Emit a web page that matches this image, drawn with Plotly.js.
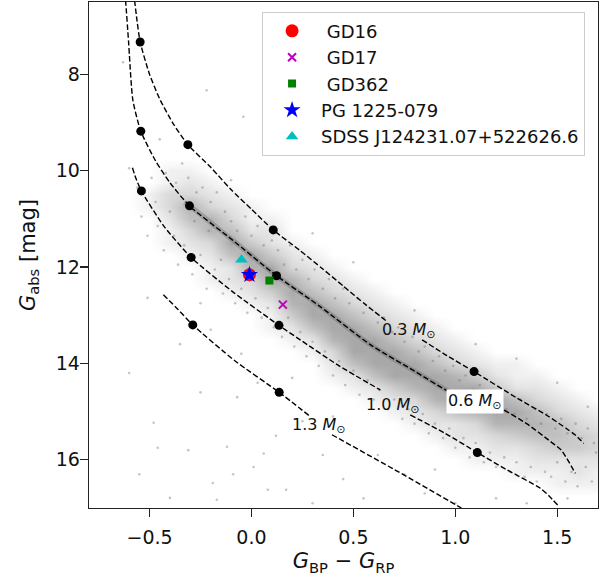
<!DOCTYPE html>
<html>
<head>
<meta charset="utf-8">
<script src="https://cdn.plot.ly/plotly-3.0.1.min.js"></script>
<style>html,body{margin:0;padding:0;background:#fff;}#chart{width:604px;height:581px;}</style>
</head>
<body>
<div id="chart"></div>
<script>
// ---- Gaia WD cloud: density (0 = empty ... 7 = densest) ----
const gridX = [-0.6,-0.5,-0.4,-0.3,-0.2,-0.1,0.0,0.1,0.2,0.3,0.4,0.5,0.6,0.7,0.8,0.9,1.0,1.1,1.2,1.3,1.4,1.5,1.6,1.7];
const gridY = [9.5,9.75,10.0,10.25,10.5,10.75,11.0,11.25,11.5,11.75,12.0,12.25,12.5,12.75,13.0,13.25,13.5,13.75,
               14.0,14.25,14.5,14.75,15.0,15.25,15.5,15.75,16.0,16.25,16.5,16.75,17.0];
const densityRows = [
  "000000000000000000000000",
  "000000000000000000000000",
  "001100000000000000000000",
  "001210000000000000000000",
  "013321000000000000000000",
  "013632100000000000000000",
  "002563110000000000000000",
  "001365220000000000000000",
  "001237421000000000000000",
  "000125742100000000000000",
  "000012673210000000000000",
  "000012376321000000000000",
  "000001247532100000000000",
  "000000126753210000000000",
  "000000014775321000000000",
  "000000012577532100000000",
  "000000001267753210000000",
  "000000000137775321000000",
  "000000000025777532110000",
  "000000000012577764211000",
  "000000000001246777422100",
  "000000000000123677753210",
  "000000000000012356775321",
  "000000000000001223666532",
  "000000000000000122345543",
  "000000000000000011223443",
  "000000000000000001112222",
  "000000000000000000011121",
  "000000000000000000000111",
  "000000000000000000000000",
  "000000000000000000000000"
];
// dark ridge along the sequence
const ridgeX = [-0.33,-0.304,-0.09,0.123,0.337,0.583,0.80,0.967];
const ridgeY = [10.66,10.73,11.45,12.18,12.82,13.61,14.16,14.58];
// individual scattered stars
const cloudX = [-0.63,-0.22,-0.04,-0.45,-0.60,-0.56,-0.54,-0.51,-0.49,-0.47,-0.46,-0.43,-0.42,-0.40,-0.38,-0.37,-0.36,-0.34,-0.33,-0.31,
  -0.29,-0.28,-0.27,-0.25,-0.24,-0.22,-0.21,-0.20,-0.18,-0.17,-0.15,-0.14,-0.13,-0.11,-0.10,-0.08,-0.07,-0.05,-0.03,-0.02,
  0.00,0.02,0.03,0.05,0.06,0.08,0.10,0.11,0.13,0.15,0.16,0.18,0.19,0.21,0.22,0.24,0.25,0.27,0.28,0.30,
  0.31,0.33,0.35,0.36,0.38,0.40,0.41,0.43,0.45,0.46,0.48,0.50,0.52,0.53,0.55,0.57,0.58,0.60,0.62,0.63,
  0.65,0.67,0.69,0.70,0.72,0.74,0.75,0.77,0.79,0.80,0.82,0.84,0.85,0.87,0.89,0.90,0.92,0.94,0.95,0.97,
  0.99,1.00,1.02,1.04,1.05,1.07,1.09,1.10,1.12,1.14,1.15,1.17,1.19,1.20,1.22,1.24,1.25,1.27,1.29,1.30,
  1.32,1.34,1.35,1.37,1.39,1.40,1.42,1.44,1.45,1.47,1.49,1.50,1.52,1.54,1.55,1.57,1.59,1.60,1.62,1.64,
  1.65,1.67,1.68,1.69,-0.51,-0.25,-0.48,-0.46,-0.40,-0.31,-0.19,-0.12,-0.07,0.01,0.08,0.06,0.17,-0.17,-0.35,-0.20,
  -0.05,0.03,0.20,0.25,0.35,0.45,0.55,0.30,0.62,0.75,0.85,1.00,1.20,1.35,-0.60,-0.55,-0.25,0.40,0.90,1.55,
  -0.09,0.12,0.50,0.80,1.10,1.30,1.50,1.65,0.30,-0.10];
const cloudY = [7.75,8.33,8.88,9.35,9.95,10.35,10.95,11.35,10.15,10.65,11.15,11.65,10.05,10.85,11.35,10.25,11.95,9.85,11.55,10.15,
  12.15,11.05,10.45,11.75,10.35,12.45,11.25,10.65,12.05,10.45,11.85,12.55,10.85,12.25,11.05,12.75,11.25,12.45,10.95,12.95,
  11.35,12.65,11.15,13.05,11.55,12.85,11.45,13.25,11.65,13.45,11.95,13.05,11.55,13.65,12.05,13.35,11.85,13.85,12.25,13.55,
  12.05,14.05,12.45,13.75,12.25,14.25,12.65,13.95,12.45,14.45,12.75,14.15,12.65,14.65,12.95,14.35,12.85,14.75,13.15,14.55,
  13.05,14.95,13.35,14.75,13.25,15.15,13.55,14.95,13.45,15.25,13.75,15.05,13.65,15.45,13.95,15.25,13.85,15.55,14.15,15.35,
  14.05,15.75,14.35,15.55,14.25,15.95,14.55,15.65,14.45,16.05,14.75,15.85,14.65,16.15,14.85,15.95,14.95,16.25,15.05,16.05,
  14.75,16.35,15.15,16.15,14.95,16.45,15.25,16.25,15.05,16.35,15.35,16.05,15.15,16.45,15.45,16.25,15.25,16.55,15.55,16.15,
  15.35,16.45,15.65,15.85,12.64,12.75,15.23,15.75,16.79,15.8,16.48,15.73,14.7,16.15,16.62,15.87,16.62,16.83,13.6,13.3,
  13.8,14.4,14.3,15.2,15.9,16.4,16.8,16.9,15.9,16.3,16.7,16.9,16.8,16.9,14.2,16.3,14.6,15.1,16.2,16.8,
  16.3,15.5,11.9,12.9,13.6,13.9,14.4,14.9,11.3,10.2];

// ---- cooling tracks ----
const x03 = [-0.578,-0.561,-0.546,-0.50,-0.448,-0.38,-0.312,-0.20,-0.103,0.0,0.107,0.239,0.35,0.452,0.56,0.665,null,0.837,0.96,1.092,1.303,1.45,1.548,1.59,1.63];
const y03 = [6.3,6.9,7.33,8.0,8.53,9.05,9.46,9.93,10.38,10.80,11.23,11.66,12.04,12.40,12.78,13.13,null,13.51,13.84,14.17,14.72,15.08,15.36,15.49,15.66];
const x06 = [-0.622,-0.617,-0.603,-0.582,-0.543,-0.47,-0.40,-0.304,-0.09,0.123,0.337,0.583,0.80,0.967,1.098,1.229,1.35,1.467,1.52,1.589];
const y06 = [6.3,6.5,7.32,8.53,9.18,9.8,10.25,10.73,11.45,12.18,12.82,13.61,14.16,14.58,14.79,14.95,15.25,15.62,15.80,16.28];
const x10 = [-0.584,-0.565,-0.540,-0.43,-0.296,-0.096,0.135,0.239,0.43,0.632,null,0.779,0.95,1.108,1.25,1.417,1.46,1.502];
const y10 = [9.94,10.18,10.42,11.15,11.80,12.50,13.21,13.51,14.05,14.55,null,15.07,15.45,15.85,16.2,16.59,16.75,16.94];
const x13 = [-0.432,-0.36,-0.288,-0.08,0.136,0.288,null,0.395,0.70,1.03];
const y13 = [12.575,12.88,13.2,13.95,14.6,15.10,null,15.48,16.2,17.0];
const dotsX = [-0.546,-0.312,0.107,1.092, -0.543,-0.304,0.123,1.098, -0.540,-0.296,0.135,1.108, -0.288,0.136];
const dotsY = [7.33,9.46,11.23,14.17, 9.18,10.73,12.18,14.79, 10.42,11.80,13.21,15.85, 13.2,14.6];
const trackLabels = ['0.3','0.6','1.0','1.3'];
const labelX = [0.772,1.098,0.696,0.333];
const labelY = [13.31,14.80,14.87,15.28];

// ---- named white dwarfs ----
const starNames = [' GD16',' GD17',' GD362','PG 1225-079','SDSS J124231.07+522626.6'];
const starX = [-0.010,0.154,0.088,-0.010,-0.049];
const starY = [12.16,12.78,12.28,12.16,11.85];

const FONT = 'DejaVu Sans, sans-serif';
const traces = [];
const densityZ = densityRows.map(r => r.split('').map(Number));
traces.push({type:'heatmap',x:gridX,y:gridY,z:densityZ,zsmooth:'best',zmin:0,zmax:7,showscale:false,hoverinfo:'skip',
  colorscale:[[0,'rgba(120,120,120,0)'],[0.143,'rgba(120,120,120,0.11)'],[0.3,'rgba(120,120,120,0.21)'],[0.6,'rgba(120,120,120,0.40)'],[1,'rgba(105,105,105,0.58)']]});
traces.push({x:ridgeX,y:ridgeY,type:'scatter',mode:'lines',line:{color:'rgba(80,80,80,0.28)',width:5,shape:'spline'},hoverinfo:'skip',showlegend:false});
traces.push({x:cloudX,y:cloudY,type:'scatter',mode:'markers',marker:{size:2.6,color:'rgba(110,110,110,0.4)'},hoverinfo:'skip',showlegend:false});
[[x03,y03],[x06,y06],[x10,y10],[x13,y13]].forEach(t=>{
  traces.push({x:t[0],y:t[1],type:'scatter',mode:'lines',connectgaps:false,line:{color:'#000',width:1.4,dash:'5.5px,2.5px',shape:'spline',smoothing:0.6},hoverinfo:'skip',showlegend:false});
});
traces.push({x:dotsX,y:dotsY,type:'scatter',mode:'markers',marker:{size:9,color:'#000'},hoverinfo:'skip',showlegend:false});
const styles = [
  {symbol:'circle',size:13,color:'#ff0000'},
  {symbol:'x-thin',size:8,color:'#bf00bf',line:{width:2,color:'#bf00bf'}},
  {symbol:'square',size:8,color:'#008000'},
  {symbol:'star',size:13,color:'#0000ff'},
  {symbol:'triangle-up',size:11,color:'#00bfbf'}
];
starNames.forEach((n,i)=>{
  traces.push({x:[starX[i]],y:[starY[i]],type:'scatter',mode:'markers',name:n,marker:styles[i]});
});

const annotations = trackLabels.map((t,i)=>({
  x:labelX[i],y:labelY[i],xref:'x',yref:'y',showarrow:false,
  text:t+' <i>M</i><sub>⊙</sub>',
  font:{family:FONT,size:16,color:'#111'},
  bgcolor: i===1 ? '#ffffff' : 'rgba(0,0,0,0)',borderpad:1
}));

const layout = {
  width:604,height:581,
  margin:{l:89,r:6,t:2,b:73},
  paper_bgcolor:'#fff',plot_bgcolor:'#fff',
  showlegend:true,
  legend:{x:0.34,y:0.981,xanchor:'left',yanchor:'top',bgcolor:'rgba(255,255,255,0.85)',bordercolor:'#cccccc',borderwidth:1,
    itemwidth:48,font:{family:FONT,size:18,color:'#111'}},
  xaxis:{range:[-0.797,1.70],tickvals:[-0.5,0,0.5,1,1.5],ticktext:['−0.5','0.0','0.5','1.0','1.5'],
    ticks:'outside',ticklen:8,tickwidth:1.3,tickcolor:'#222',showline:true,linecolor:'#222',linewidth:1.3,mirror:true,
    showgrid:false,zeroline:false,tickfont:{family:FONT,size:19,color:'#111'},ticklabelstandoff:4,
    title:{text:'<i>G</i><sub>BP</sub> − <i>G</i><sub>RP</sub>',font:{family:FONT,size:21,color:'#111'},standoff:6}},
  yaxis:{range:[17,6.5],tickvals:[8,10,12,14,16],
    ticks:'outside',ticklen:8,tickwidth:1.3,tickcolor:'#222',showline:true,linecolor:'#222',linewidth:1.3,mirror:true,
    showgrid:false,zeroline:false,tickfont:{family:FONT,size:19,color:'#111'},ticklabelstandoff:-4,
    title:{text:'<i>G</i><sub>abs</sub> [mag]',font:{family:FONT,size:21,color:'#111'},standoff:14}},
  annotations:annotations
};
Plotly.newPlot('chart',traces,layout,{staticPlot:true,displayModeBar:false});
</script>
</body>
</html>
